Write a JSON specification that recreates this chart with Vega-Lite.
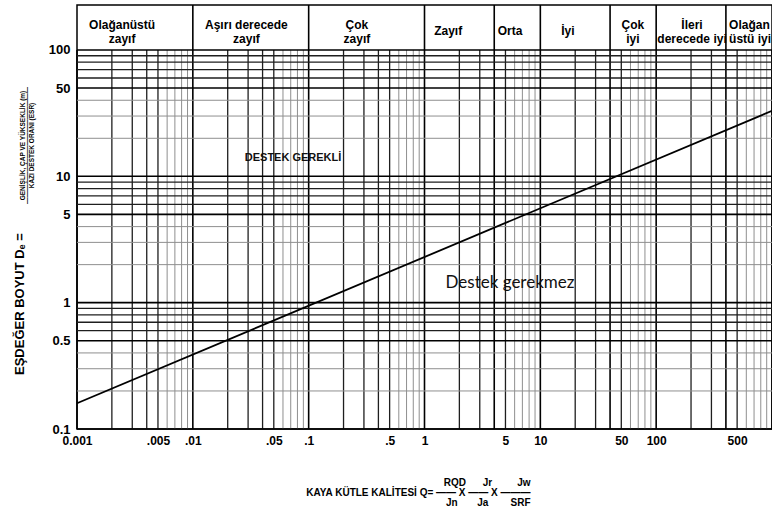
{
  "$schema": "https://vega.github.io/schema/vega-lite/v6.json",
  "width": 695,
  "height": 424,
  "autosize": "none",
  "padding": {"left": 77, "top": 5, "right": 0, "bottom": 79},
  "background": "white",
  "config": {"view": {"stroke": "black", "strokeWidth": 1.5}, "font": "Liberation Sans"},
  "title": {"text": "EŞDEĞER BOYUT Dₑ =", "orient": "left", "anchor": "start", "frame": "group", "font": "Liberation Sans", "fontSize": 13, "fontWeight": "bold", "color": "black", "dx": 54, "dy": 8, "offset": 0},
  "datasets": {
    "vgrid": [
      {"q": 0.001, "c": "major"}, {"q": 0.002, "c": "dark"}, {"q": 0.003, "c": "dark"}, {"q": 0.004, "c": "dark"}, {"q": 0.005, "c": "dark"}, {"q": 0.006, "c": "light"}, {"q": 0.007, "c": "light"}, {"q": 0.008, "c": "light"}, {"q": 0.009, "c": "light"},
      {"q": 0.01, "c": "major"}, {"q": 0.02, "c": "dark"}, {"q": 0.03, "c": "dark"}, {"q": 0.04, "c": "dark"}, {"q": 0.05, "c": "dark"}, {"q": 0.06, "c": "light"}, {"q": 0.07, "c": "light"}, {"q": 0.08, "c": "light"}, {"q": 0.09, "c": "light"},
      {"q": 0.1, "c": "major"}, {"q": 0.2, "c": "dark"}, {"q": 0.3, "c": "dark"}, {"q": 0.4, "c": "dark"}, {"q": 0.5, "c": "dark"}, {"q": 0.6, "c": "light"}, {"q": 0.7, "c": "light"}, {"q": 0.8, "c": "light"}, {"q": 0.9, "c": "light"},
      {"q": 1, "c": "major"}, {"q": 2, "c": "dark"}, {"q": 3, "c": "dark"}, {"q": 4, "c": "major"}, {"q": 5, "c": "dark"}, {"q": 6, "c": "light"}, {"q": 7, "c": "light"}, {"q": 8, "c": "light"}, {"q": 9, "c": "light"},
      {"q": 10, "c": "major"}, {"q": 20, "c": "dark"}, {"q": 30, "c": "dark"}, {"q": 40, "c": "major"}, {"q": 50, "c": "dark"}, {"q": 60, "c": "light"}, {"q": 70, "c": "light"}, {"q": 80, "c": "light"}, {"q": 90, "c": "light"},
      {"q": 100, "c": "major"}, {"q": 200, "c": "dark"}, {"q": 300, "c": "dark"}, {"q": 400, "c": "major"}, {"q": 500, "c": "dark"}, {"q": 600, "c": "light"}, {"q": 700, "c": "light"}, {"q": 800, "c": "light"}, {"q": 900, "c": "light"},
      {"q": 1000, "c": "major"}
    ],
    "hgrid": [
      {"de": 0.1, "c": "major"}, {"de": 0.2, "c": "light"}, {"de": 0.3, "c": "light"}, {"de": 0.4, "c": "light"}, {"de": 0.5, "c": "major"}, {"de": 0.6, "c": "dark"}, {"de": 0.7, "c": "dark"}, {"de": 0.8, "c": "dark"}, {"de": 0.9, "c": "dark"},
      {"de": 1, "c": "major"}, {"de": 2, "c": "light"}, {"de": 3, "c": "light"}, {"de": 4, "c": "light"}, {"de": 5, "c": "major"}, {"de": 6, "c": "dark"}, {"de": 7, "c": "dark"}, {"de": 8, "c": "dark"}, {"de": 9, "c": "dark"},
      {"de": 10, "c": "major"}, {"de": 20, "c": "light"}, {"de": 30, "c": "light"}, {"de": 40, "c": "light"}, {"de": 50, "c": "major"}, {"de": 60, "c": "dark"}, {"de": 70, "c": "dark"}, {"de": 80, "c": "dark"}, {"de": 90, "c": "dark"},
      {"de": 100, "c": "major"}
    ],
    "bounds": [{"q": 0.01}, {"q": 0.1}, {"q": 1}, {"q": 4}, {"q": 10}, {"q": 40}, {"q": 100}, {"q": 400}],
    "limit": [{"q": 0.001, "de": 0.16}, {"q": 1000, "de": 33}],
    "header2": [
      {"cls": "Olağanüstü zayıf", "q": 0.00245, "label": ["Olağanüstü", "zayıf"]},
      {"cls": "Aşırı derecede zayıf", "q": 0.029, "label": ["Aşırı derecede", "zayıf"]},
      {"cls": "Çok zayıf", "q": 0.261, "label": ["Çok", "zayıf"]},
      {"cls": "Çok iyi", "q": 63, "label": ["Çok", "iyi"]},
      {"cls": "İleri derecede iyi", "q": 204, "label": ["İleri", "derecede iyi"]}
    ],
    "header1": [
      {"cls": "Zayıf", "q": 1.6, "label": "Zayıf"},
      {"cls": "Orta", "q": 5.47, "label": "Orta"},
      {"cls": "İyi", "q": 17.3, "label": "İyi"}
    ],
    "headerEdge": [
      {"cls": "Olağanüstü iyi", "q": 426, "label": ["Olağan", "üstü iyi"]}
    ],
    "noteA": [{"q": 0.0733, "de": 14, "t": "DESTEK GEREKLİ"}],
    "noteB": [{"q": 5.47, "de": 1.43, "t": "Destek gerekmez"}]
  },
  "layer": [
    {
      "data": {"name": "vgrid"},
      "mark": {"type": "rule"},
      "encoding": {
        "x": {"field": "q", "type": "quantitative", "scale": {"type": "log", "domain": [0.001, 1000], "nice": false}},
        "y": {"datum": 0.1, "type": "quantitative", "scale": {"type": "log", "domain": [0.1, 227], "nice": false}},
        "y2": {"datum": 100},
        "color": {"field": "c", "type": "nominal", "scale": {"domain": ["major", "dark", "light"], "range": ["#000000", "#1e1e1e", "#8f8f8f"]}, "legend": null},
        "strokeWidth": {"field": "c", "type": "nominal", "scale": {"domain": ["major", "dark", "light"], "range": [1.6, 1, 1]}, "legend": null}
      }
    },
    {
      "data": {"name": "hgrid"},
      "mark": {"type": "rule"},
      "encoding": {
        "y": {"field": "de", "type": "quantitative", "scale": {"type": "log", "domain": [0.1, 227], "nice": false}},
        "x": {"datum": 0.001, "type": "quantitative", "scale": {"type": "log", "domain": [0.001, 1000], "nice": false}},
        "x2": {"datum": 1000},
        "color": {"field": "c", "type": "nominal", "scale": {"domain": ["major", "dark", "light"], "range": ["#000000", "#1e1e1e", "#8f8f8f"]}, "legend": null},
        "strokeWidth": {"field": "c", "type": "nominal", "scale": {"domain": ["major", "dark", "light"], "range": [1.6, 1, 1]}, "legend": null}
      }
    },
    {
      "data": {"name": "bounds"},
      "mark": {"type": "rule", "color": "black", "strokeWidth": 1.6},
      "encoding": {
        "x": {"field": "q", "type": "quantitative", "scale": {"type": "log", "domain": [0.001, 1000], "nice": false}},
        "y": {"datum": 100, "type": "quantitative", "scale": {"type": "log", "domain": [0.1, 227], "nice": false}},
        "y2": {"datum": 227}
      }
    },
    {
      "data": {"name": "limit"},
      "mark": {"type": "line", "color": "black", "strokeWidth": 1.8},
      "encoding": {
        "x": {
          "field": "q", "type": "quantitative",
          "scale": {"type": "log", "domain": [0.001, 1000], "nice": false},
          "axis": {
            "values": [0.001, 0.005, 0.01, 0.05, 0.1, 0.5, 1, 5, 10, 50, 100, 500],
            "labelExpr": "datum.value == 0.001 ? '0.001' : (datum.value < 1 ? replace(format(datum.value, '~g'), '0.', '.') : format(datum.value, '~g'))",
            "labelFont": "Liberation Sans", "labelFontSize": 12, "labelFontWeight": "bold", "labelColor": "black",
            "labelAlign": "center", "labelBaseline": "top", "labelPadding": 6, "labelFlush": false, "labelOverlap": false, "labelBound": false,
            "ticks": false, "domain": false, "grid": false,
            "title": ["RQD\u00a0\u00a0\u00a0\u00a0\u00a0\u00a0Jr\u00a0\u00a0\u00a0\u00a0\u00a0\u00a0\u00a0\u00a0\u00a0Jw\u00a0\u00a0\u00a0", "KAYA KÜTLE KALİTESİ Q= —— X —— X ———", "Jn\u00a0\u00a0\u00a0\u00a0\u00a0\u00a0\u00a0Ja\u00a0\u00a0\u00a0\u00a0\u00a0\u00a0\u00a0\u00a0SRF\u00a0\u00a0"],
            "titleFont": "Liberation Sans", "titleFontSize": 10, "titleFontWeight": "bold", "titleColor": "black",
            "titleLineHeight": 10, "titleAlign": "right", "titleBaseline": "top", "titleX": 453, "titleY": 48, "titleAngle": 0
          }
        },
        "y": {
          "field": "de", "type": "quantitative",
          "scale": {"type": "log", "domain": [0.1, 227], "nice": false},
          "axis": {
            "values": [0.1, 0.5, 1, 5, 10, 50, 100],
            "labelExpr": "format(datum.value, '~g')",
            "labelFont": "Liberation Sans", "labelFontSize": 13, "labelFontWeight": "bold", "labelColor": "black",
            "labelPadding": 7, "labelFlush": false, "labelOverlap": false, "labelBound": false,
            "ticks": false, "domain": false, "grid": false,
            "title": ["GENİŞLİK, ÇAP VE YÜKSEKLİK (m)", "——————————————————", "KAZI DESTEK ORANI (ESR)"],
            "titleFont": "Liberation Sans", "titleFontSize": 6.5, "titleFontWeight": "bold", "titleColor": "black",
            "titleLineHeight": 4.5, "titleAngle": 270, "titleAlign": "center", "titleBaseline": "bottom", "titleX": -52, "titleY": 140
          }
        }
      }
    },
    {
      "data": {"name": "header2"},
      "mark": {"type": "text", "font": "Liberation Sans", "fontSize": 12, "fontWeight": "bold", "lineHeight": 14, "baseline": "middle", "align": "center", "color": "black"},
      "encoding": {
        "x": {"field": "q", "type": "quantitative", "scale": {"type": "log", "domain": [0.001, 1000], "nice": false}},
        "y": {"datum": 158, "type": "quantitative", "scale": {"type": "log", "domain": [0.1, 227], "nice": false}},
        "text": {"field": "label", "type": "nominal"}
      }
    },
    {
      "data": {"name": "header1"},
      "mark": {"type": "text", "font": "Liberation Sans", "fontSize": 12, "fontWeight": "bold", "baseline": "middle", "align": "center", "color": "black"},
      "encoding": {
        "x": {"field": "q", "type": "quantitative", "scale": {"type": "log", "domain": [0.001, 1000], "nice": false}},
        "y": {"datum": 141, "type": "quantitative", "scale": {"type": "log", "domain": [0.1, 227], "nice": false}},
        "text": {"field": "label", "type": "nominal"}
      }
    },
    {
      "data": {"name": "headerEdge"},
      "mark": {"type": "text", "font": "Liberation Sans", "fontSize": 12, "fontWeight": "bold", "lineHeight": 14, "baseline": "middle", "align": "left", "color": "black"},
      "encoding": {
        "x": {"field": "q", "type": "quantitative", "scale": {"type": "log", "domain": [0.001, 1000], "nice": false}},
        "y": {"datum": 158, "type": "quantitative", "scale": {"type": "log", "domain": [0.1, 227], "nice": false}},
        "text": {"field": "label", "type": "nominal"}
      }
    },
    {
      "data": {"name": "noteA"},
      "mark": {"type": "text", "font": "Liberation Sans", "fontSize": 11, "fontWeight": "bold", "baseline": "middle", "align": "center", "color": "#111111"},
      "encoding": {
        "x": {"field": "q", "type": "quantitative", "scale": {"type": "log", "domain": [0.001, 1000], "nice": false}},
        "y": {"field": "de", "type": "quantitative", "scale": {"type": "log", "domain": [0.1, 227], "nice": false}},
        "text": {"field": "t", "type": "nominal"}
      }
    },
    {
      "data": {"name": "noteB"},
      "mark": {"type": "text", "font": "Lato", "fontSize": 17, "baseline": "middle", "align": "center", "color": "#111111"},
      "encoding": {
        "x": {"field": "q", "type": "quantitative", "scale": {"type": "log", "domain": [0.001, 1000], "nice": false}},
        "y": {"field": "de", "type": "quantitative", "scale": {"type": "log", "domain": [0.1, 227], "nice": false}},
        "text": {"field": "t", "type": "nominal"}
      }
    }
  ]
}
